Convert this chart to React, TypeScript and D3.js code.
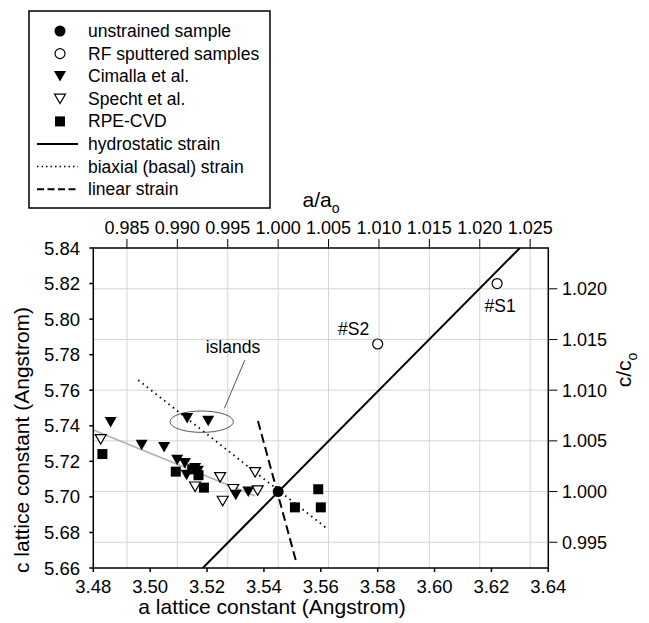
import React from 'react';
import * as d3 from 'd3';

const A0 = 3.545;
const C0 = 5.703;

const aTicks = [3.48, 3.5, 3.52, 3.54, 3.56, 3.58, 3.6, 3.62, 3.64];
const cTicks = [5.66, 5.68, 5.7, 5.72, 5.74, 5.76, 5.78, 5.8, 5.82, 5.84];
const aRelTicks = [0.985, 0.99, 0.995, 1.0, 1.005, 1.01, 1.015, 1.02, 1.025];
const cRelTicks = [0.995, 1.0, 1.005, 1.01, 1.015, 1.02];

const unstrained: [number, number][] = [[3.545, 5.703]];
const rfSputtered: [number, number][] = [[3.622, 5.82], [3.58, 5.786]];
const rfLabels = ['#S1', '#S2'];
const cimalla: [number, number][] = [
  [3.4861, 5.742], [3.497, 5.7292], [3.5049, 5.7279], [3.5095, 5.7208],
  [3.5122, 5.7189], [3.5128, 5.7123], [3.5158, 5.7161], [3.5168, 5.7145],
  [3.513, 5.7442], [3.5204, 5.7427], [3.5301, 5.7011], [3.5345, 5.7029],
];
const specht: [number, number][] = [
  [3.4826, 5.7324], [3.5158, 5.7057], [3.5246, 5.711], [3.5255, 5.6977],
  [3.5292, 5.7043], [3.5369, 5.7138], [3.5378, 5.7035],
];
const rpeCvd: [number, number][] = [
  [3.4832, 5.7241], [3.509, 5.7142], [3.5148, 5.7155], [3.517, 5.7122],
  [3.5189, 5.7052], [3.5509, 5.6941], [3.5591, 5.7043], [3.56, 5.6941],
];
const hydrostatic: [number, number][] = [[3.5185, 5.66], [3.63, 5.84]];
const biaxial: [number, number][] = [[3.4958, 5.7657], [3.5621, 5.6823]];
const linearStrain: [number, number][] = [[3.5379, 5.7427], [3.5515, 5.6626]];
const trend: [number, number][] = [[3.48, 5.7376], [3.5369, 5.7005]];
const islandsCenter: [number, number] = [3.5181, 5.7423];
const islandsLeader: [number, number][] = [[3.5261, 5.7498], [3.5333, 5.777]];
const islandsLabelPos: [number, number] = [3.5291, 5.7811];

const legendItems = [
  { label: 'unstrained sample', kind: 'fcircle' },
  { label: 'RF sputtered samples', kind: 'ocircle' },
  { label: 'Cimalla et al.', kind: 'ftri' },
  { label: 'Specht et al.', kind: 'otri' },
  { label: 'RPE-CVD', kind: 'square' },
  { label: 'hydrostatic strain', kind: 'solid' },
  { label: 'biaxial (basal) strain', kind: 'dotted' },
  { label: 'linear strain', kind: 'dashed' },
];

const FONT = "'Liberation Sans', Arial, Helvetica, sans-serif";

const triPath = (w: number, h: number) =>
  `M${-w / 2},${-h / 2}L${w / 2},${-h / 2}L0,${h / 2}Z`;

function Marker({ kind, x, y }: { kind: string; x: number; y: number }) {
  switch (kind) {
    case 'fcircle':
      return <circle cx={x} cy={y} r={5.5} fill="#000" />;
    case 'ocircle':
      return <circle cx={x} cy={y} r={5} fill="#fff" stroke="#000" strokeWidth={1.2} />;
    case 'ftri':
      return <path d={triPath(12, 10.5)} transform={`translate(${x},${y})`} fill="#000" />;
    case 'otri':
      return <path d={triPath(11, 9.5)} transform={`translate(${x},${y})`} fill="#fff" stroke="#000" strokeWidth={1.2} />;
    case 'square':
      return <rect x={x - 5} y={y - 5} width={10} height={10} fill="#000" />;
    default:
      return null;
  }
}

export default function App() {
  const left = 93.3, right = 548.3, top = 248, bottom = 568;
  const x = d3.scaleLinear().domain([3.48, 3.64]).range([left, right]);
  const y = d3.scaleLinear().domain([5.66, 5.84]).range([bottom, top]);
  const xRel = d3.scaleLinear().domain([3.48 / A0, 3.64 / A0]).range([left, right]);
  const yRel = d3.scaleLinear().domain([5.66 / C0, 5.84 / C0]).range([bottom, top]);
  const line = d3.line<[number, number]>().x((d) => x(d[0])).y((d) => y(d[1]));

  const legendX = 29, legendY = 11, legendW = 241, legendH = 197;
  const rowY = (i: number) => 31 + i * 22.6;

  return (
    <svg width={649} height={623} style={{ position: 'absolute', left: 0, top: 0, background: '#fff' }} fontFamily={FONT}>
      <rect x={0} y={0} width={649} height={623} fill="#fff" />
      {/* gridlines */}
      <g stroke="#d4d4d4" strokeWidth={1}>
        {aRelTicks.map((t) => (
          <line key={'gv' + t} x1={xRel(t)} x2={xRel(t)} y1={top} y2={bottom} />
        ))}
        {cRelTicks.map((t) => (
          <line key={'gh' + t} x1={left} x2={right} y1={yRel(t)} y2={yRel(t)} />
        ))}
      </g>

      {/* model lines */}
      <defs>
        <clipPath id="plotclip">
          <rect x={left} y={top} width={right - left} height={bottom - top} />
        </clipPath>
      </defs>
      <g clipPath="url(#plotclip)" fill="none">
        <path d={line(trend) || ''} stroke="#b0b0b0" strokeWidth={1.5} />
        <path d={line(hydrostatic) || ''} stroke="#000" strokeWidth={2} />
        <path d={line(biaxial) || ''} stroke="#000" strokeWidth={1.8} strokeDasharray="1.5,4" />
        <path d={line(linearStrain) || ''} stroke="#000" strokeWidth={2} strokeDasharray="9,4.5" />
      </g>

      {/* islands annotation */}
      <ellipse cx={x(islandsCenter[0])} cy={y(islandsCenter[1])} rx={31.7} ry={10.7} fill="none" stroke="#555" strokeWidth={1} />
      <path d={line(islandsLeader) || ''} stroke="#555" strokeWidth={1} fill="none" />
      <text x={x(islandsLabelPos[0])} y={y(islandsLabelPos[1])} fontSize={17.5} textAnchor="middle">islands</text>

      {/* data */}
      {specht.map((d, i) => <Marker key={'s' + i} kind="otri" x={x(d[0])} y={y(d[1])} />)}
      {rpeCvd.map((d, i) => <Marker key={'r' + i} kind="square" x={x(d[0])} y={y(d[1])} />)}
      {cimalla.map((d, i) => <Marker key={'c' + i} kind="ftri" x={x(d[0])} y={y(d[1])} />)}
      {unstrained.map((d, i) => <Marker key={'u' + i} kind="fcircle" x={x(d[0])} y={y(d[1])} />)}
      {rfSputtered.map((d, i) => <Marker key={'o' + i} kind="ocircle" x={x(d[0])} y={y(d[1])} />)}
      {rfSputtered.map((d, i) => (
        <text key={'ol' + i} x={x(d[0]) + (i === 0 ? 3 : -24)} y={y(d[1]) + (i === 0 ? 28 : -9)} fontSize={17.5} textAnchor="middle">{rfLabels[i]}</text>
      ))}

      {/* frame */}
      <rect x={left} y={top} width={right - left} height={bottom - top} fill="none" stroke="#000" strokeWidth={1.5} />

      {/* bottom axis */}
      <g fontSize={18.5} textAnchor="middle">
        {aTicks.map((t) => (
          <g key={'b' + t}>
            <line x1={x(t)} x2={x(t)} y1={bottom} y2={bottom + 4} stroke="#000" strokeWidth={1.5} />
            <text x={x(t)} y={593}>{t.toFixed(2)}</text>
          </g>
        ))}
      </g>
      {/* left axis */}
      <g fontSize={18.5} textAnchor="end">
        {cTicks.map((t) => (
          <g key={'l' + t}>
            <line x1={left - 4} x2={left} y1={y(t)} y2={y(t)} stroke="#000" strokeWidth={1.5} />
            <text x={80} y={y(t) + 6.5}>{t.toFixed(2)}</text>
          </g>
        ))}
      </g>
      {/* top axis */}
      <g fontSize={18} textAnchor="middle">
        {aRelTicks.map((t) => (
          <g key={'t' + t}>
            <line x1={xRel(t)} x2={xRel(t)} y1={top - 9} y2={top} stroke="#000" strokeWidth={1} />
            <text x={xRel(t)} y={234}>{t.toFixed(3)}</text>
          </g>
        ))}
      </g>
      {/* right axis */}
      <g fontSize={18} textAnchor="start">
        {cRelTicks.map((t) => (
          <g key={'rt' + t}>
            <line x1={right} x2={right + 9} y1={yRel(t)} y2={yRel(t)} stroke="#000" strokeWidth={1} />
            <text x={562} y={yRel(t) + 6.5}>{t.toFixed(3)}</text>
          </g>
        ))}
      </g>

      {/* titles */}
      <text x={272} y={614} fontSize={21} textAnchor="middle">a lattice constant (Angstrom)</text>
      <text transform="translate(29,440) rotate(-90)" fontSize={21} textAnchor="middle">c lattice constant (Angstrom)</text>
      <text x={321} y={207} fontSize={21} textAnchor="middle">
        a/a<tspan fontSize={14} dy={6}>o</tspan>
      </text>
      <text transform="translate(631,370) rotate(-90)" fontSize={21} textAnchor="middle">
        c/c<tspan fontSize={14} dy={6}>o</tspan>
      </text>

      {/* legend */}
      <rect x={legendX} y={legendY} width={legendW} height={legendH} fill="#fff" stroke="#000" strokeWidth={1.5} />
      {legendItems.map((it, i) => {
        const cy = rowY(i);
        let sym: React.ReactNode = null;
        if (it.kind === 'solid') sym = <line x1={37} x2={78} y1={cy} y2={cy} stroke="#000" strokeWidth={2} />;
        else if (it.kind === 'dotted') sym = <line x1={37} x2={78} y1={cy} y2={cy} stroke="#000" strokeWidth={1.5} strokeDasharray="1.5,3" />;
        else if (it.kind === 'dashed') sym = <line x1={37} x2={78} y1={cy} y2={cy} stroke="#000" strokeWidth={2} strokeDasharray="7,3.5" />;
        else sym = <Marker kind={it.kind} x={60} y={cy} />;
        return (
          <g key={'lg' + i}>
            {sym}
            <text x={88} y={cy + 6} fontSize={17.5}>{it.label}</text>
          </g>
        );
      })}
    </svg>
  );
}
